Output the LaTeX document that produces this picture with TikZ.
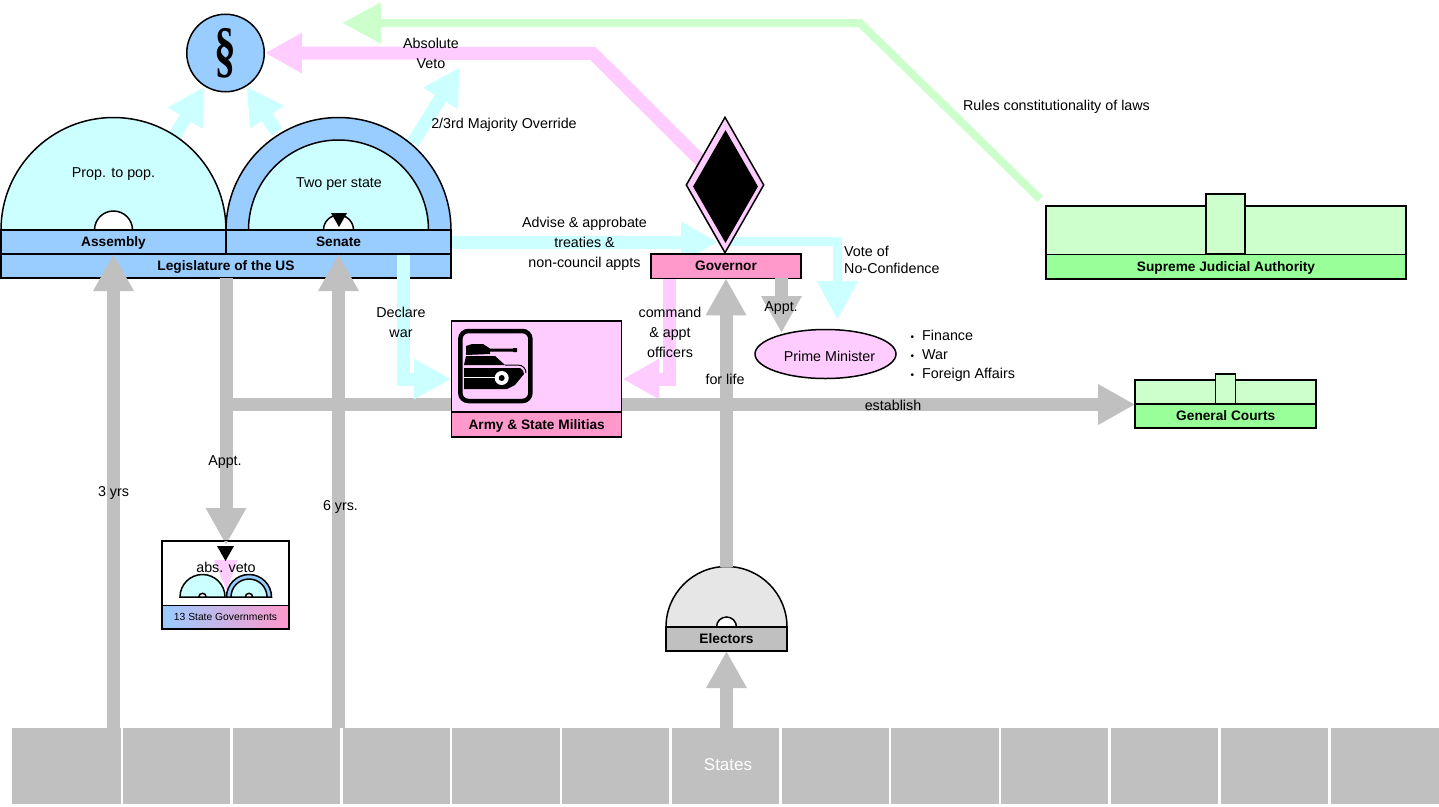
\documentclass[tikz,border=0pt]{standalone}
\usepackage{fontspec}
\setmainfont{Liberation Sans}
\newfontfamily\sectfont{Liberation Serif}
\usetikzlibrary{arrows.meta,shapes.geometric,backgrounds}
\definecolor{capblue}{HTML}{99CCFF}
\definecolor{paleteal}{HTML}{CCFFFF}
\definecolor{palepink}{HTML}{FFCCFF}
\definecolor{hotpink}{HTML}{FF99CC}
\definecolor{palegreen}{HTML}{CCFFCC}
\definecolor{courtgreen}{HTML}{99FF99}
\definecolor{stategray}{HTML}{C0C0C0}
\definecolor{domegray}{HTML}{E6E6E6}
\newcommand{\lblfont}{\fontsize{14.3}{20}\selectfont}
\newcommand{\barfont}{\fontsize{13.7}{16}\selectfont\bfseries}
\begin{document}
\begin{tikzpicture}[x=1pt,y=-1pt,
  every node/.style={font=\lblfont},
  outline/.style={draw=black,line width=1.5pt},
  barbox/.style={outline,inner sep=0pt,outer sep=0pt,font=\barfont,text depth=0pt,text height=9.5pt},
  widearrow/.style={line width=13pt,-{Triangle[length=37pt,width=38pt]}},
  slimarrow/.style={line width=8.5pt,-{Triangle[length=39pt,width=39pt]}},
  lbl/.style={inner sep=0pt,align=center}]
\useasboundingbox (0,0) rectangle (1439,806);
% domes: centre, base, radius, colour
\foreach \x/\y/\r/\col in {113.5/230/112.5/paleteal,113.5/230/19/white,338.5/230/112.5/capblue,338.5/230/90/paleteal,338.5/230/15/white,726.5/627/60.5/domegray,726.5/627/10/white} {
  \filldraw[outline,fill=\col] (\x-\r,\y) arc (180:360:\r) -- cycle;
}
\node[barbox,fill=capblue,minimum width=225pt,minimum height=24pt] (assembly) at (113.5,242) {Assembly};
\node[barbox,fill=capblue,minimum width=225pt,minimum height=24pt] (senate) at (338.5,242) {Senate};
\node[barbox,fill=capblue,minimum width=450pt,minimum height=24pt] (legislature) at (226,266) {Legislature of the US};
\fill[black] (331,213) -- (347,213) -- (339,227) -- cycle;
\node[outline,circle,fill=capblue,minimum size=77.5pt,inner sep=0pt] (seal) at (225.5,53) {};
\node[inner sep=0pt,font=\sectfont\bfseries\fontsize{62}{62}\selectfont,xscale=.7,transform shape] (sectsign) at (225.5,53) {\S};
% governor
\node[outline,diamond,fill=palepink,minimum width=78pt,minimum height=136pt,inner sep=0pt] (diamondout) at (725,185) {};
\node[diamond,fill=black,minimum width=65pt,minimum height=113pt,inner sep=0pt] (diamondin) at (725.5,186.5) {};
\node[barbox,fill=hotpink,minimum width=150pt,minimum height=24.5pt] (governor) at (726,266) {Governor};
\node[outline,ellipse,fill=palepink,minimum width=141pt,minimum height=49pt,inner sep=0pt] (minister) at (825.5,354) {};
% army box with tank
\node[outline,fill=palepink,minimum width=170pt,minimum height=91pt,inner sep=0pt] (armybox) at (536.7,366.5) {};
\node[barbox,fill=hotpink,minimum width=170pt,minimum height=24.5pt] (army) at (536.7,424.5) {Army \& State Militias};
\draw[black,line width=4.5pt,rounded corners=8pt] (460.3,331) rectangle (530.4,401);
\fill[black] (466,355) -- (466,346) -- (472,344) -- (483,344) -- (490,348.5) -- (513,348.5) -- (513,348) -- (517,348) -- (517,352) -- (513,352) -- (513,351.5) -- (490,351.5) -- (490,354) -- (466,355) -- cycle;
\fill[black] (466,356) -- (495,356) -- (505,365) -- (464,365) -- cycle;
\draw[black,line width=1pt] (505,365) -- (518,365) .. controls (523,365) and (526,369) .. (526,373);
\fill[black] (464,368) -- (520,368) .. controls (523,370) and (524,372) .. (524,374) -- (515,385) -- (507,389) -- (464,389) -- cycle;
\draw[white,line width=1.5pt] (464,377.3) -- (498,377.3);
\fill[white] (501.7,378) circle (7);
\fill[black] (501.7,378) circle (3);
% courts
\node[outline,fill=palegreen,minimum width=360pt,minimum height=48.5pt,inner sep=0pt] (supremebox) at (1226,230) {};
\node[outline,fill=palegreen,minimum width=39pt,minimum height=60pt,inner sep=0pt] (supremetower) at (1225.7,224.2) {};
\node[barbox,fill=courtgreen,minimum width=360pt,minimum height=24.5pt] (supreme) at (1226,266.5) {Supreme Judicial Authority};
\node[outline,fill=palegreen,minimum width=181pt,minimum height=24pt,inner sep=0pt] (courtbox) at (1225.7,392) {};
\node[outline,fill=palegreen,minimum width=20pt,minimum height=30pt,inner sep=0pt] (courttower) at (1225.7,389) {};
\node[barbox,fill=courtgreen,minimum width=181pt,minimum height=24pt] (courts) at (1225.7,416) {General Courts};
\node[barbox,fill=stategray,minimum width=121pt,minimum height=24pt] (electors) at (726.5,639) {Electors};
% states row
\node[fill=stategray,minimum width=1427pt,minimum height=76pt,inner sep=0pt,outer sep=0pt] (states) at (725.5,766) {};
\foreach \i in {1,...,12} \draw[white,line width=2.5pt] (12+\i*109.77,728) -- (12+\i*109.77,804);
% free ends
\coordinate (assemblytop) at (175,135);
\coordinate (senatetop) at (277,132);
\coordinate (overridefoot) at (412.7,143);
\coordinate (overridetip) at (460,67);
\coordinate (vetobend) at (593,53.5);
\coordinate (rulesfoot) at (1040,199);
\coordinate (rulesbend) at (860,23);
\coordinate (rulestip) at (342,23);
\coordinate (advisetip) at (718,242);
\coordinate (votefoot) at (725,241.5);
\coordinate (votebend) at (837.5,241.5);
\coordinate (votetip) at (837.5,320);
\coordinate (warbend) at (403,379);
\coordinate (warfoot) at (403,255);
\coordinate (cmdfoot) at (669.5,278);
\coordinate (cmdbend) at (669.5,379);
\coordinate (apptfoot) at (781.5,278);
\coordinate (appttip) at (781.5,333);
\coordinate (electtop) at (726,567);
\coordinate (estabfoot) at (226,404.5);
\begin{scope}[on background layer]
\draw[widearrow,paleteal] (assemblytop) -- (seal.-122);
\draw[widearrow,paleteal] (senatetop) -- (seal.-58);
\draw[widearrow,paleteal] (overridefoot) -- (overridetip);
\draw[widearrow,palepink] (diamondout.center) -- (vetobend) -- (seal.east);
\draw[line width=8pt,-{Triangle[length=39pt,width=39pt]},palegreen] (rulesfoot) -- (rulesbend) -- (rulestip);
\draw[widearrow,paleteal] (senate.east) -- (advisetip);
\draw[slimarrow,paleteal] (votefoot) -- (votebend) -- (votetip);
\draw[widearrow,palepink] (cmdfoot) -- (cmdbend) -- (armybox.east |- cmdbend);
\draw[widearrow,stategray] (estabfoot) -- (courts.west |- estabfoot);
\end{scope}
% arrows over the boxes
\draw[widearrow,paleteal] (warfoot) -- (warbend) -- (armybox.west |- warbend);
\draw[widearrow,stategray] (states.north -| assembly.south) -- (assembly.south);
\draw[widearrow,stategray] (states.north -| senate.south) -- (senate.south);
\draw[widearrow,stategray] (electtop) -- (governor.south);
\draw[widearrow,stategray] (states.north -| electors.south) -- (electors.south);
\draw[widearrow,stategray] (apptfoot) -- (appttip);
% state governments
\node[outline,fill=white,minimum width=127pt,minimum height=87pt,inner sep=0pt] (statebox) at (225.5,584.5) {};
\fill[palepink] (214,560) -- (238,560) -- (226.5,590) -- cycle;
\foreach \x/\y/\r/\col in {202.5/597/22.5/paleteal,202.5/597/3.7/white,249/597/22.5/capblue,249/597/18/paleteal,249/597/3.7/white} {
  \filldraw[outline,fill=\col] (\x-\r,\y) arc (180:360:\r) -- cycle;
}
\node[outline,left color=capblue,right color=hotpink,minimum width=127pt,minimum height=23.5pt,inner sep=0pt,font=\fontsize{10.3}{12}\selectfont] (statebar) at (225.5,617) {13 State Governments};
\coordinate (vetotip) at (226,545);
\draw[widearrow,stategray] (legislature.south) -- (vetotip);
\draw[outline] (statebox.north west) -- (statebox.north east);
\fill[black] (217,546) -- (234,546) -- (225.5,561) -- cycle;
% labels
\foreach \nm/\x/\y/\txt in {absolute/431/53/{Absolute\\Veto},rules/1056.5/107/Rules constitutionality of laws,proptopop/113.5/174.5/Prop. to pop.,twoper/339/184.5/Two per state,advise/584.5/243.5/{Advise \& approbate\\treaties \&\\non-council appts},declare/401/322/{Declare\\war},command/670/332.5/{command\\\& appt\\officers},apptgov/781/308/Appt.,primemin/829.5/356/Prime Minister,forlife/725/379.5/for life,establish/893/405/establish,apptstate/225/462/Appt.,threeyrs/113.5/492.5/3 yrs,sixyrs/340.5/506.5/6 yrs.,absveto/226/567/abs. veto} {
  \node[lbl] (\nm) at (\x,\y) {\txt};
}
\node[lbl] (override) at (504,125) {2/3rd Majority Override};
\node[lbl,anchor=west,align=left] (vote) at (844,260) {Vote of\\[-3pt]No-Confidence};
\foreach \nm/\y/\txt in {finance/335/Finance,war/355/War,foreign/375/Foreign Affairs} {
  \node[lbl,anchor=west] (\nm) at (910.5,\y) {\makebox[11.5pt][l]{\fontsize{10}{10}\selectfont •}\txt};
}
\node[lbl,text=white,font=\fontsize{17}{20}\selectfont] (statesname) at (728,765) {States};
\end{tikzpicture}
\end{document}
